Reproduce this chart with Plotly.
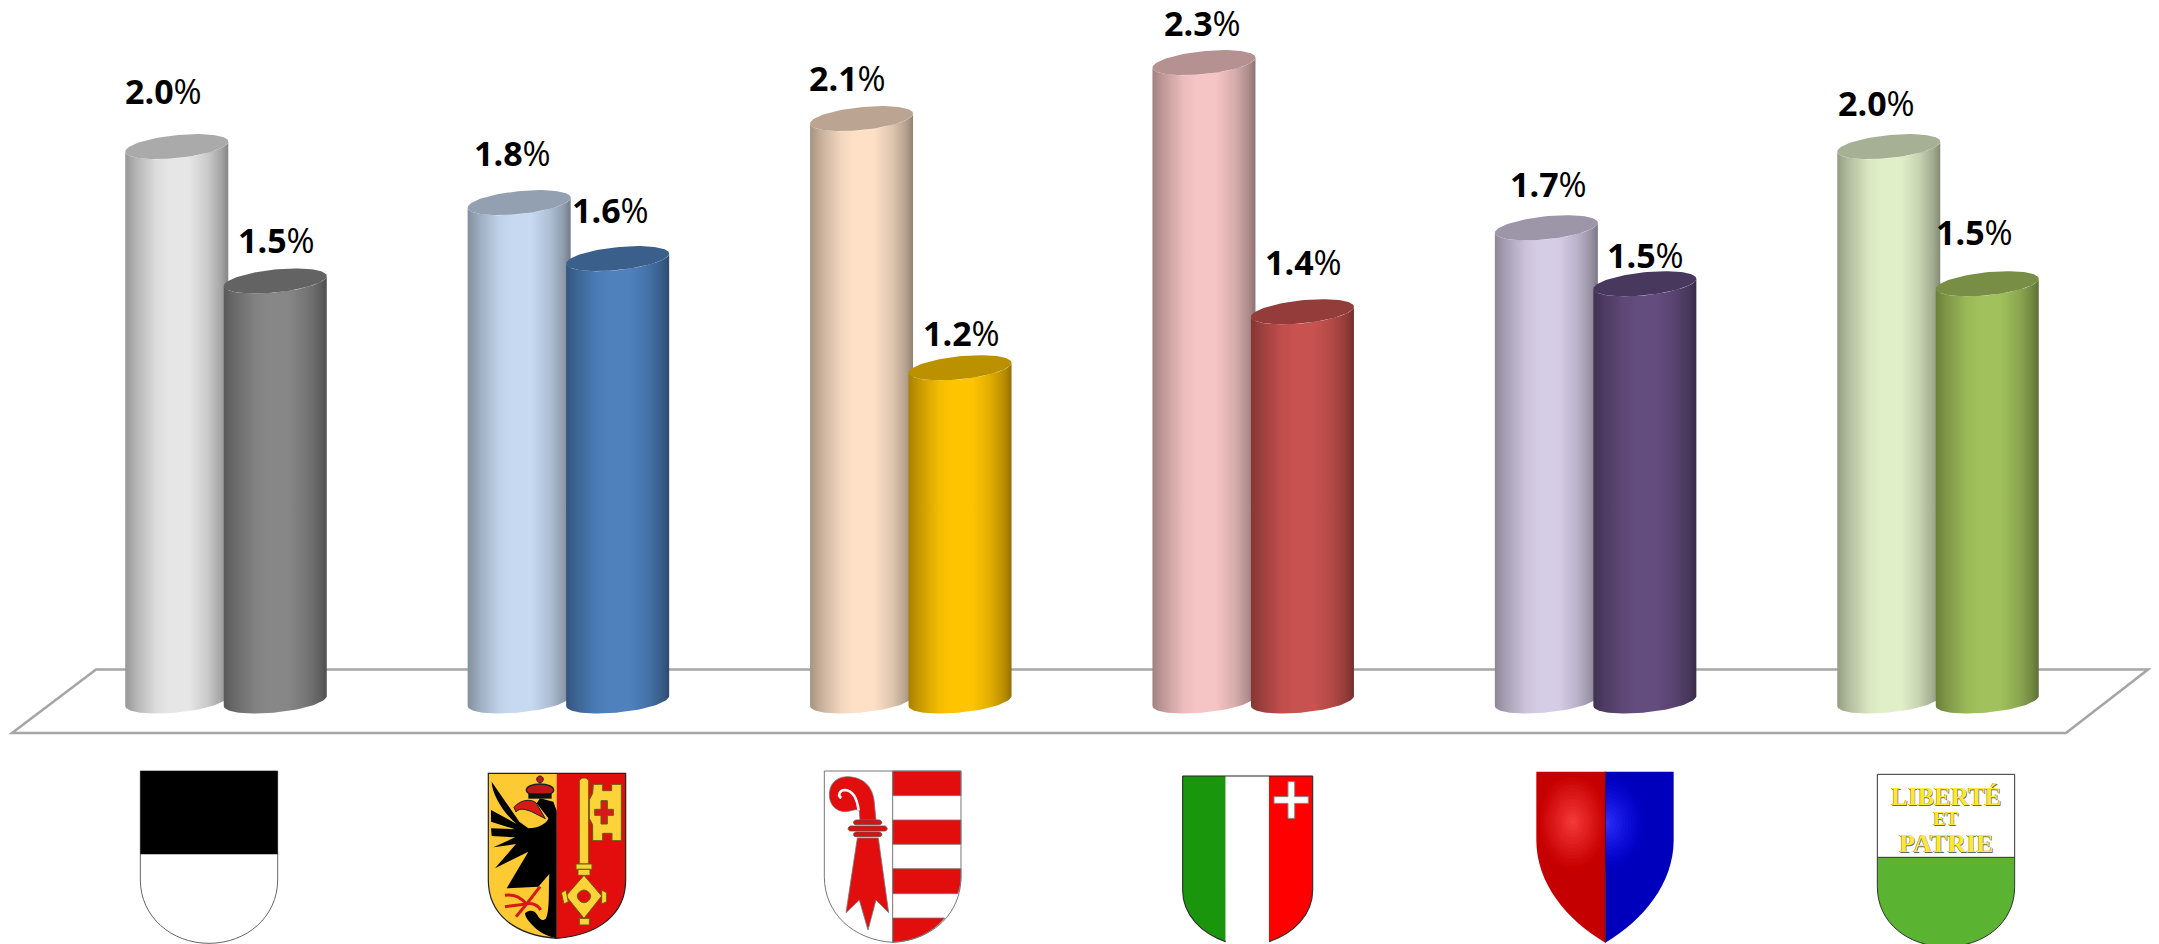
import re
import numpy as np
import plotly.graph_objects as go

W, H = 2159, 944

cantons = ["Fribourg", "Genève", "Jura", "Neuchâtel", "Valais", "Vaud"]
series_light = [1.98, 1.78, 2.08, 2.28, 1.69, 1.98]
series_dark = [1.50, 1.58, 1.19, 1.39, 1.49, 1.49]
labels_light = ["2.0%", "1.8%", "2.1%", "2.3%", "1.7%", "2.0%"]
labels_dark = ["1.5%", "1.6%", "1.2%", "1.4%", "1.5%", "1.5%"]
colors_light = ["#e6e6e6", "#c6d9f1", "#fde0c6", "#f5c4c4", "#d5cce5", "#e1efc8"]
colors_dark = ["#878787", "#4f81bd", "#ffc400", "#c8524f", "#634c7e", "#a1c15c"]

# label nudges, pixels
shift_light = [(-13, 56), (-7, 50), (-14, 41), (-1, 40), (2, 44), (-12, 44)]
shift_dark = [(1, 41), (-7, 49), (1, 35), (1, 50), (1, 29), (-13, 52)]

# scales
STEP = 342.4
X0 = 226.0
Y0 = 701.0
PXU = 280.0
HALF = 51.5 / STEP
OFFSET = 49.25 / STEP
DEPTH = 11.5 / PXU
TILT = 5.0 / PXU

SHADE = [(0, 0.66), (0.10, 0.78), (0.30, 0.96), (0.42, 1.0), (0.62, 1.0), (0.80, 0.88), (0.93, 0.72), (1, 0.58)]


def shade(hexcol, f):
    r, g, b = [int(hexcol[i:i + 2], 16) for i in (1, 3, 5)]
    return f"rgb({int(r * f)},{int(g * f)},{int(b * f)})"


def cylinder(xc, value, color):
    t = np.linspace(0, np.pi, 60)
    # bottom front arc, left to right
    xb = xc - HALF * np.cos(t)
    yb = -DEPTH * np.sin(t) - TILT * np.cos(t)
    # top front arc, right to left
    xt = xc + HALF * np.cos(t)
    yt = value - DEPTH * np.sin(t) + TILT * np.cos(t)
    body = go.Scatter(
        x=np.concatenate([xb, xt]), y=np.concatenate([yb, yt]),
        mode="lines", line=dict(width=0), fill="toself", hoverinfo="skip", showlegend=False,
        fillgradient=dict(type="horizontal", colorscale=[[p, shade(color, f)] for p, f in SHADE]),
    )
    t2 = np.linspace(0, 2 * np.pi, 120)
    top = go.Scatter(
        x=xc + HALF * np.cos(t2), y=value + DEPTH * np.sin(t2) + TILT * np.cos(t2),
        mode="lines", line=dict(width=0), fill="toself", hoverinfo="skip", showlegend=False,
        fillcolor=shade(color, 0.74),
    )
    return [body, top]


fig = go.Figure()
annotations = []
for i, name in enumerate(cantons):
    for sign, vals, labs, cols, sh in (
        (-1, series_light, labels_light, colors_light, shift_light),
        (1, series_dark, labels_dark, colors_dark, shift_dark),
    ):
        xc = i + sign * OFFSET
        for tr in cylinder(xc, vals[i], cols[i]):
            fig.add_trace(tr)
        txt = labs[i]
        annotations.append(dict(
            x=xc, y=vals[i], xref="x", yref="y", text=f"<b>{txt[:-1]}</b>%", showarrow=False,
            xshift=sh[i][0], yshift=sh[i][1], font=dict(family="Open Sans", size=34, color="#000"),
            xanchor="center", yanchor="middle",
        ))


def P(s, ox=0.0, oy=0.0, k=1.0):
    """Turn a pixel path into a paper path."""
    toks = re.findall(r"[A-Za-z]|-?\d+\.?\d*", s)
    out, idx = [], 0
    for tok in toks:
        if tok.isalpha():
            out.append(tok)
        else:
            v = float(tok)
            if idx % 2 == 0:
                out.append(f"{(ox + v * k) / W:.5f}")
            else:
                out.append(f"{1 - (oy + v * k) / H:.5f}")
            idx += 1
    return " ".join(out)


shapes = []


def add(s, fill=None, line=None, lw=0, ox=0.0, oy=0.0, k=1 / 3):
    d = dict(type="path", xref="paper", yref="paper", path=P(s, ox, oy, k), layer="above")
    d["fillcolor"] = fill if fill else "rgba(0,0,0,0)"
    d["line"] = dict(color=line if line else "rgba(0,0,0,0)", width=lw)
    shapes.append(d)


def ell(cx, cy, rx, ry):
    c = 0.5523
    return (f"M {cx-rx} {cy} C {cx-rx} {cy-ry*c} {cx-rx*c} {cy-ry} {cx} {cy-ry} "
            f"C {cx+rx*c} {cy-ry} {cx+rx} {cy-ry*c} {cx+rx} {cy} "
            f"C {cx+rx} {cy+ry*c} {cx+rx*c} {cy+ry} {cx} {cy+ry} "
            f"C {cx-rx*c} {cy+ry} {cx-rx} {cy+ry*c} {cx-rx} {cy} Z")


# floor
floor = dict(type="path", xref="paper", yref="paper", layer="below",
             path=P("M 12 733 L 96 669.5 L 2148 669.5 L 2066 733 Z"),
             fillcolor="rgba(0,0,0,0)", line=dict(color="#a6a6a6", width=2.6))
shapes.append(floor)

# Fribourg
o = dict(ox=0, oy=640)
add("M 421 393 L 833 393 L 833 720 C 833 830 740 910 627 910 C 514 910 421 830 421 720 Z", "#ffffff", "#666666", 1, **o)
add("M 421 393 L 833 393 L 833 643 L 421 643 Z", "#000000", **o)

# Geneve
o = dict(ox=460, oy=750)
add("M 85 70 L 290 70 L 290 565 C 160 555 85 490 85 390 Z", "#fdca33", **o)
add("M 290 70 L 497 70 L 497 390 C 497 490 420 555 290 565 Z", "#e20d0d", **o)
add("M 240 145 L 280 155 L 290 182 L 290 565 C 262 558 240 548 222 530 C 205 515 195 500 195 490 C 205 478 225 480 232 495 "
    "C 240 510 250 515 258 505 C 270 480 265 420 268 372 L 235 410 L 140 415 L 205 305 L 105 355 L 168 282 L 100 292 L 165 262 "
    "L 95 258 L 93 235 L 165 238 L 93 215 L 93 180 L 170 222 C 130 190 95 130 95 95 L 178 215 L 205 235 "
    "C 235 235 262 220 265 205 L 230 160 Z", "#000000", **o)
add("M 162 172 C 180 150 210 145 228 158 L 256 206 L 215 185 C 195 178 180 172 168 186 Z", "#d51a1a", "#222222", 1, **o)
add(ell(240, 120, 41, 18), "#c01818", "#222222", 1.4, **o)
add(ell(240, 88, 10, 10), "#c01818", "#222222", 1, **o)
add("M 205 130 L 275 130 L 275 146 L 205 146 Z", "#111111", **o)
add("M 240 410 L 200 462 M 200 462 C 180 440 160 432 135 436 M 200 462 L 135 470 M 200 462 L 168 500 M 200 462 C 215 458 235 465 242 480",
    None, "#d51a1a", 3, **o)
keyline = "#6e5a10"
add("M 358 95 C 358 80 386 80 386 95 L 386 342 L 358 342 Z", "#fdd33a", keyline, 1, **o)
add("M 348 342 L 396 342 L 396 358 L 348 358 Z", "#fdd33a", keyline, 1, **o)
add("M 354 358 L 390 358 L 390 376 L 354 376 Z", "#fdd33a", keyline, 1, **o)
add("M 372 376 L 425 438 L 372 505 L 318 438 Z", "#fdd33a", keyline, 1, **o)
add("M 372 420 C 385 422 392 432 392 438 C 392 448 382 458 372 458 C 362 458 352 448 352 438 C 352 430 360 422 372 420 Z", "#e20d0d", keyline, 1, **o)
add("M 304 428 L 318 420 L 325 455 L 312 462 Z", "#fdd33a", keyline, 1, **o)
add("M 425 420 L 440 428 L 440 455 L 425 462 Z", "#fdd33a", keyline, 1, **o)
add("M 358 505 L 388 505 L 388 525 L 358 525 Z", "#fdd33a", keyline, 1, **o)
add("M 400 103 L 428 103 L 428 122 L 455 122 L 455 103 L 484 103 L 484 272 L 456 272 L 456 250 L 428 250 L 428 272 L 398 272 "
    "L 398 225 L 388 205 L 388 150 L 398 130 Z", "#fdd33a", keyline, 1, **o)
add("M 423 152 L 442 152 L 442 178 L 460 178 L 460 196 L 442 196 L 442 222 L 423 222 L 423 196 L 404 196 L 404 178 L 423 178 Z", "#d51a1a", keyline, 1, **o)
add("M 85 70 L 497 70 L 497 390 C 497 490 420 555 290 565 C 160 555 85 490 85 390 Z", None, "#222222", 1.2, **o)

# Jura
o = dict(ox=800, oy=750)
red = "#e20d0d"
add("M 73 63 L 483 63 L 483 380 C 483 490 400 570 278 577 C 160 570 73 490 73 380 Z", "#ffffff", **o)
for a in ("M 278 63 L 483 63 L 483 137 L 278 137 Z", "M 278 210 L 483 210 L 483 283 L 278 283 Z",
          "M 278 356 L 483 356 L 483 380 C 483 400 479 416 473 431 L 278 431 Z",
          "M 278 504 L 434 504 C 395 550 340 575 278 577 Z"):
    add(a, red, "#777777", 0.8, **o)
add("M 178 185 L 180 210 L 228 210 L 222 150 C 215 100 180 80 140 80 C 105 82 88 105 88 135 C 88 165 110 185 135 185 "
    "C 155 185 170 172 178 185 Z", red, "#777777", 0.8, **o)
add("M 176 182 C 172 150 160 122 135 120 C 118 120 112 138 124 144", None, "#ffffff", 2.6, **o)
add("M 168 210 L 238 210 C 248 212 248 224 238 224 L 168 224 C 158 224 158 212 168 210 Z", red, "#555555", 0.8, **o)
add("M 152 228 L 254 228 C 264 230 264 243 254 243 L 152 243 C 142 243 142 230 152 228 Z", red, "#555555", 0.8, **o)
add("M 168 246 L 238 246 C 248 248 248 260 238 260 L 168 260 C 158 260 158 248 168 246 Z", red, "#555555", 0.8, **o)
add("M 172 264 L 235 264 L 266 488 L 228 450 L 204 540 L 178 450 L 138 488 Z", red, "#777777", 0.8, **o)
add("M 73 63 L 483 63 L 483 380 C 483 490 400 570 278 577 C 160 570 73 490 73 380 Z", None, "#777777", 1, **o)
add("M 278 63 L 278 577", None, "#777777", 1, **o)

# Neuchatel
o = dict(ox=1160, oy=750)
add("M 68 78 L 197 78 L 197 575 C 125 550 68 495 68 420 Z", "#1a960d", **o)
add("M 197 78 L 327 78 L 327 575 C 290 585 235 585 197 575 Z", "#ffffff", **o)
add("M 327 78 L 458 78 L 458 420 C 458 495 400 550 327 575 Z", "#fe0000", **o)
add("M 384 95 L 404 95 L 404 140 L 445 140 L 445 160 L 404 160 L 404 205 L 384 205 L 384 160 L 342 160 L 342 140 L 384 140 Z", "#ffffff", "#888888", 1, **o)
add("M 68 78 L 458 78", None, "#222222", 1.2, **o)
add("M 68 78 L 68 420 C 68 495 125 550 197 575 M 458 78 L 458 420 C 458 495 400 550 327 575", None, "#333333", 1.2, **o)

# Valais
o = dict(ox=1510, oy=750)
add("M 79 65 L 286 65 L 286 578 C 170 510 79 400 79 270 Z", "#c40000", **o)
add("M 286 65 L 491 65 L 491 270 C 491 400 400 510 286 578 Z", "#0000bc", **o)
N = 14
for j in range(N):
    f = j / (N - 1)
    rx = 100 * (1 - f) + 4
    ry = 140 * (1 - f) + 4
    col = f"rgb({int(200 + 45 * f)},{int(0 + 58 * f)},{int(0 + 58 * f)})"
    add(ell(188, 215, rx, ry), col, **o)
    rb = 120 * (1 - f) + 4
    col = f"rgb({int(50 * f ** 1.5)},{int(50 * f ** 1.5)},{int(190 + 60 * f)})"
    c = 0.5523
    yc = 220
    ryb = 145 * (1 - f) + 4
    add(f"M 287 {yc-ryb} C {287+rb*c} {yc-ryb} {287+rb} {yc-ryb*c} {287+rb} {yc} C {287+rb} {yc+ryb*c} {287+rb*c} {yc+ryb} 287 {yc+ryb} Z", col, **o)
add("M 286 65 L 286 578", None, "#50103c", 1, **o)

# Vaud
o = dict(ox=1850, oy=750)
add("M 82 73 L 494 73 L 494 322 L 82 322 Z", "#ffffff", **o)
add("M 82 322 L 494 322 L 494 410 C 494 520 400 590 288 590 C 176 590 82 520 82 410 Z", "#5ab432", **o)
add("M 82 322 L 82 73 L 494 73 L 494 322 L 82 322 M 82 322 L 82 410 C 82 520 176 590 288 590 C 400 590 494 520 494 410 L 494 322", None, "#333333", 1, **o)

vaud_lines = [("LIBERTÉ", 796, 25), ("ET", 818, 19), ("PATRIE", 843, 26)]
for txt, yy, fs in vaud_lines:
    annotations.append(dict(
        x=1946 / W, y=1 - yy / H, xref="paper", yref="paper", text=f"<b>{txt}</b>", showarrow=False,
        font=dict(family="Liberation Serif", size=fs, color="#ffe92e",
                  shadow="0.7px 0.7px 0.6px #666, -0.5px -0.5px 0.6px #888"),
        xanchor="center", yanchor="middle",
    ))

fig.update_layout(
    width=W, height=H, margin=dict(l=0, r=0, t=0, b=0), autosize=False,
    paper_bgcolor="#ffffff", plot_bgcolor="rgba(0,0,0,0)", showlegend=False,
    xaxis=dict(range=[-X0 / STEP, (W - X0) / STEP], visible=False, fixedrange=True),
    yaxis=dict(range=[-(H - Y0) / PXU, Y0 / PXU], visible=False, fixedrange=True),
    shapes=shapes, annotations=annotations,
)
fig.write_html(
    "out.html",
    config=dict(displayModeBar=False),
    post_script="document.body.style.margin='0';document.body.style.overflow='hidden';",
)
